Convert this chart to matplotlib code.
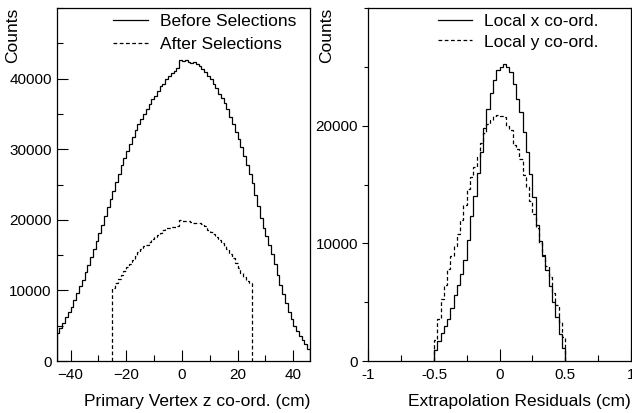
import numpy as np
import matplotlib.pyplot as plt
from matplotlib.ticker import MultipleLocator

plt.rcParams['font.family'] = ['Liberation Sans', 'DejaVu Sans']

# primary vertex z, 1 cm bins from -45 to 46
z_lo, z_hi = -45, 46
before_sel = [3900, 4700, 5400, 6200, 6900, 7700, 8700, 9600, 10600, 11500,
              12600, 13600, 14700, 15900, 17000, 18200, 19300, 20500, 21800, 22900,
              24100, 25300, 26500, 27700, 28700, 29700, 30800, 31700, 32700, 33500,
              34300, 35000, 35700, 36400, 37100, 37600, 38200, 38900, 39300, 39900,
              40300, 40800, 41100, 41500, 42700, 42500, 42600, 42300, 42200, 42300,
              42000, 41800, 41300, 40900, 40400, 39900, 39300, 38700, 37800, 37200,
              36600, 35700, 34600, 33500, 32500, 31400, 30300, 29000, 27800, 26500,
              25200, 23500, 21900, 20300, 18900, 17700, 16400, 15100, 13700, 12200,
              10800, 9500, 8200, 7000, 6000, 5000, 4300, 3500, 3000, 2400,
              1700]
# after selections only |z| < 25
after_lo, after_hi = -25, 25
after_sel = [10400, 11000, 11600, 12200, 12700, 13300, 13800, 14300, 14900, 15400,
             15900, 16300, 16500, 16900, 17300, 17600, 17900, 18200, 18500, 18800,
             18900, 19000, 19000, 19100, 20000, 19900, 19800, 19800, 19700, 19600,
             19500, 19500, 19400, 19100, 18600, 18300, 18000, 17500, 17100, 16700,
             16300, 15800, 15200, 14600, 13900, 13200, 12500, 11900, 11400, 11000]

# extrapolation residuals, 0.025 cm bins, non-zero in [-0.5, 0.5]
res_lo, res_hi = -0.5, 0.5
local_x = [900, 1700, 2400, 3000, 3600, 4500, 5600, 6500, 7400, 8600,
           10300, 12300, 14000, 16000, 17800, 19800, 21400, 22800, 23900, 24700,
           25000, 25200, 25000, 24600, 23500, 22300, 21200, 19500, 17800, 15900,
           13900, 11600, 10200, 8900, 7700, 6400, 5000, 3700, 2300, 1100]
local_y = [1800, 3600, 5300, 6500, 7800, 8900, 9800, 10800, 12000, 13300,
           14600, 15600, 16500, 17300, 18500, 19400, 20100, 20500, 20800, 20900,
           20800, 20700, 20000, 19600, 18400, 18000, 17200, 15800, 14800, 13600,
           12500, 11300, 10000, 9000, 8100, 7100, 5800, 4800, 3300, 2000]

fs = 12.5   # labels + legend
tfs = 11    # tick labels
dash = (0, (3, 2))

fig = plt.figure(figsize=(6.32, 4.13), dpi=100)
ax1 = fig.add_axes([0.0897, 0.1259, 0.4008, 0.8547])
ax2 = fig.add_axes([0.5828, 0.1259, 0.4153, 0.8547])

# left panel
z_edges = np.arange(z_lo, z_hi + 1)
a_edges = np.arange(after_lo, after_hi + 1)
ax1.stairs(before_sel, z_edges, color='black', lw=0.9, label='Before Selections')
ax1.stairs(after_sel, a_edges, color='black', lw=0.9, linestyle=dash, label='After Selections')
ax1.set_xlim(z_lo, z_hi)
ax1.set_ylim(0, 50000)
ax1.xaxis.set_major_locator(MultipleLocator(20))
ax1.xaxis.set_minor_locator(MultipleLocator(10))
ax1.set_yticks([0, 10000, 20000, 30000, 40000])
ax1.yaxis.set_minor_locator(MultipleLocator(5000))
ax1.set_xlabel('Primary Vertex z co-ord. (cm)', fontsize=fs, loc='right', labelpad=9)
ax1.set_ylabel('Counts', fontsize=fs, loc='top')
ax1.yaxis.set_label_coords(-0.145, 1.0)
ax1.tick_params(which='both', direction='in', labelsize=tfs, width=0.8)
ax1.tick_params(which='major', length=8)
ax1.tick_params(which='minor', length=4)
ax1.tick_params(axis='x', which='both', top=False, pad=5)
ax1.tick_params(axis='y', which='both', right=False)
ax1.legend(loc='upper left', bbox_to_anchor=(0.222, 0.983), frameon=False, fontsize=fs,
           handlelength=2.0, handletextpad=0.7, labelspacing=0.45,
           borderpad=0, borderaxespad=0)

# right panel
r_edges = np.linspace(res_lo, res_hi, len(local_x) + 1)
ax2.stairs(local_x, r_edges, color='black', lw=0.9, label='Local x co-ord.')
ax2.stairs(local_y, r_edges, color='black', lw=0.9, linestyle=dash, label='Local y co-ord.')
ax2.set_xlim(-1, 1)
ax2.set_ylim(0, 30000)
ax2.set_xticks([-1, -0.5, 0, 0.5, 1])
ax2.set_xticklabels(['-1', '-0.5', '0', '0.5', '1'])
ax2.xaxis.set_minor_locator(MultipleLocator(0.25))
ax2.set_yticks([0, 10000, 20000])
ax2.yaxis.set_minor_locator(MultipleLocator(5000))
ax2.set_xlabel('Extrapolation Residuals (cm)', fontsize=fs, loc='right', labelpad=9)
ax2.set_ylabel('Counts', fontsize=fs, loc='top')
ax2.yaxis.set_label_coords(-0.131, 1.0)
ax2.tick_params(axis='x', which='both', direction='in', top=False, labelsize=tfs, width=0.8, pad=5)
ax2.tick_params(axis='x', which='major', length=9)
ax2.tick_params(axis='x', which='minor', length=4)
ax2.tick_params(axis='y', which='both', direction='out', right=False, labelsize=tfs, width=0.8)
ax2.tick_params(axis='y', which='major', length=4)
ax2.tick_params(axis='y', which='minor', length=3)
ax2.legend(loc='upper left', bbox_to_anchor=(0.264, 0.983), frameon=False, fontsize=fs,
           handlelength=2.0, handletextpad=0.7, labelspacing=0.3,
           borderpad=0, borderaxespad=0)

for ax in (ax1, ax2):
    for s in ax.spines.values():
        s.set_linewidth(0.9)

fig.savefig('out.png', dpi=100)
